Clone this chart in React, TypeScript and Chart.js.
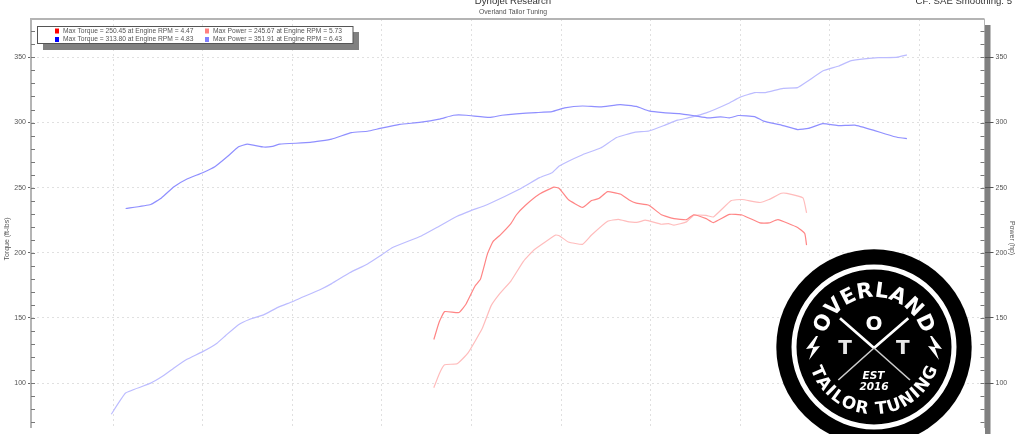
import React, { useEffect, useRef } from "react";
import { Chart, registerables } from "chart.js";

Chart.register(...registerables);

const FONT = '"Liberation Sans", Arial, sans-serif';
const LOGO_FONT = '"DejaVu Sans", "Liberation Sans", sans-serif';

const redTorqueRpm = [3.79,3.82,3.85,3.93,3.97,4.02,4.05,4.09,4.12,4.16,4.22,4.25,4.30,4.38,4.46,4.49,4.54,4.62,4.67,4.71,4.76,4.83,4.88,4.92,4.99,5.06,5.13,5.20,5.24,5.31,5.35,5.44,5.51,5.61,5.66,5.71,5.82,5.86,5.87];
const redTorque = [133.4,146.8,154.8,154.1,160.7,174.5,179.6,199.5,208.6,213.6,222.4,229,236.3,245.1,250.45,249.4,240.9,234.8,240.1,241.6,246.9,245.1,240.5,238.1,236.5,229.2,226.2,225.4,229.2,226.2,223.2,229.5,229,222.9,222.9,225.4,219.4,214.8,205.8];

const bluTorqueRpm = [2.07,2.21,2.27,2.34,2.41,2.50,2.57,2.64,2.70,2.75,2.84,2.89,2.93,3.10,3.22,3.33,3.42,3.49,3.60,3.71,3.82,3.90,3.97,4.10,4.17,4.25,4.36,4.45,4.52,4.62,4.72,4.83,4.92,4.99,5.07,5.16,5.25,5.32,5.39,5.44,5.49,5.58,5.63,5.73,5.82,5.88,5.96,6.05,6.14,6.25,6.31,6.38,6.43];
const bluTorque = [234,237.1,242.1,250.7,256.4,261.5,266.3,274.1,281.4,283.4,281.2,281.7,283.4,284.7,287.2,292.3,293.3,295.5,298.6,300.1,302.6,305.6,305.6,303.9,305.6,306.7,307.6,308.4,311.2,312.7,312,313.8,312.4,308.9,307.6,306.9,305.1,303.6,304.4,303.6,305.4,304.6,301.1,298,294.6,295.5,299.1,297.6,298,293.8,291.2,288.5,287.7];

const redPowerRpm = [3.79,3.82,3.85,3.92,3.98,4.06,4.11,4.16,4.22,4.29,4.35,4.47,4.49,4.54,4.62,4.67,4.76,4.82,4.88,4.93,4.97,5.06,5.10,5.13,5.20,5.24,5.31,5.35,5.45,5.51,5.61,5.66,5.73,5.76,5.85,5.87];
const redPower = [96.4,107,114,114.8,122.9,141.8,159.4,169,178.3,193.4,202.3,213.6,213.1,208.3,206.5,213.6,224.2,225.7,223.7,223.5,225,221.9,222.4,221.2,223.7,228.7,228.7,227.5,240.1,240.9,238.6,240.9,245.67,245.6,242.1,230.7];

const bluPowerRpm = [1.99,2.07,2.21,2.28,2.34,2.41,2.50,2.58,2.63,2.70,2.76,2.84,2.92,3.00,3.04,3.16,3.22,3.32,3.42,3.50,3.56,3.72,3.82,3.92,3.99,4.09,4.27,4.38,4.45,4.49,4.62,4.72,4.81,4.91,4.99,5.08,5.15,5.22,5.31,5.43,5.50,5.58,5.64,5.74,5.82,5.88,5.96,6.05,6.12,6.27,6.37,6.43];
const bluPower = [76,92.3,99.9,105.5,111.5,118,124.1,130.6,136.7,144.8,148.8,152.3,158.1,162.4,164.9,172,176.3,184.6,191.4,198.5,204,212.9,220.4,228,232,237.1,248.9,257.7,261.5,266.6,275.3,280.4,288.5,292.5,293.5,298,301.8,303.9,307.4,314.4,319.5,323,323,326.3,326.8,332.1,339.6,343.4,347.5,349.8,350,351.91];

const titleText = "Dynojet Research";
const subtitleText = "Overland Tailor Tuning";
const cornerText = "CF: SAE Smoothing: 5";
const leftAxisText = "Torque (ft-lbs)";
const rightAxisText = "Power (hp)";
const logoTop = "OVERLAND";
const logoBottom = "TAILOR TUNING";
const logoCentre = ["O", "T", "T"];
const logoYear = ["EST", "2016"];

const legendRows = [
  { label: "Max Torque = 250.45 at Engine RPM = 4.47", swatch: "#ff0000" },
  { label: "Max Torque = 313.80 at Engine RPM = 4.83", swatch: "#0000ff" },
  { label: "Max Power = 245.67 at Engine RPM = 5.73", swatch: "#ff8080" },
  { label: "Max Power = 351.91 at Engine RPM = 6.43", swatch: "#8080ff" },
];

const xy = (xs: number[], ys: number[]) => xs.map((x, i) => ({ x, y: ys[i] }));

function arcText(ctx: CanvasRenderingContext2D, text: string, cx: number, cy: number, r: number, span: number, top: boolean) {
  const widths = [...text].map((c) => ctx.measureText(c).width);
  const total = widths.reduce((a, b) => a + b, 0);
  const gap = (span * r - total) / (text.length - 1);
  let s = -(span * r) / 2;
  [...text].forEach((c, i) => {
    const mid = (s + widths[i] / 2) / r;
    ctx.save();
    if (top) {
      ctx.translate(cx + r * Math.sin(mid), cy - r * Math.cos(mid));
      ctx.rotate(mid);
    } else {
      ctx.translate(cx + r * Math.sin(mid), cy + r * Math.cos(mid));
      ctx.rotate(-mid);
    }
    ctx.textAlign = "center";
    ctx.textBaseline = "alphabetic";
    ctx.fillText(c, 0, 0);
    ctx.restore();
    s += widths[i] + gap;
  });
}

function bolt(ctx: CanvasRenderingContext2D, cx: number, cy: number, flip: number) {
  const p = [[3, -12], [-7, 1], [0, 0], [-4, 12], [7, -2], [0, -1], [5, -12]];
  ctx.beginPath();
  p.forEach(([x, y], i) => {
    const px = cx + x * flip;
    const py = cy + y;
    if (i === 0) ctx.moveTo(px, py);
    else ctx.lineTo(px, py);
  });
  ctx.closePath();
  ctx.fill();
}

const decorations = {
  id: "decorations",
  beforeDraw(chart: any) {
    const { ctx, chartArea: a } = chart;
    ctx.save();
    ctx.fillStyle = "#ffffff";
    ctx.fillRect(0, 0, chart.width, chart.height);
    ctx.fillStyle = "#808080";
    ctx.fillRect(a.right + 0.5, 25, 5.5, chart.height - 25);
    ctx.restore();
  },
  afterDraw(chart: any) {
    const { ctx, chartArea: a, scales } = chart;
    ctx.save();
    // top frame
    ctx.fillStyle = "#b4b4b4";
    ctx.fillRect(a.left - 1, a.top - 1, a.right - a.left + 1, 2);

    // inward tick marks
    ctx.strokeStyle = "#777777";
    ctx.lineWidth = 1;
    scales.y.ticks.forEach((t: any) => {
      const py = Math.round(scales.y.getPixelForValue(t.value)) + 0.5;
      ctx.beginPath();
      ctx.moveTo(a.left, py);
      ctx.lineTo(a.left + 4, py);
      ctx.moveTo(a.right - 4, py);
      ctx.lineTo(a.right, py);
      ctx.stroke();
    });

    // title texts
    ctx.fillStyle = "#333333";
    ctx.textBaseline = "alphabetic";
    ctx.font = `9.6px ${FONT}`;
    ctx.textAlign = "center";
    ctx.fillText(titleText, 513, 4);
    ctx.textAlign = "right";
    ctx.fillText(cornerText, 1012, 4);
    ctx.fillStyle = "#555555";
    ctx.font = `6.8px ${FONT}`;
    ctx.textAlign = "center";
    ctx.fillText(subtitleText, 513, 14);

    // rotated axis names
    ctx.font = `7px ${FONT}`;
    ctx.save();
    ctx.translate(7, 239);
    ctx.rotate(-Math.PI / 2);
    ctx.textBaseline = "middle";
    ctx.fillText(leftAxisText, 0, 0);
    ctx.restore();
    ctx.save();
    ctx.translate(1012, 238);
    ctx.rotate(Math.PI / 2);
    ctx.textBaseline = "middle";
    ctx.fillText(rightAxisText, 0, 0);
    ctx.restore();

    // legend
    ctx.fillStyle = "#808080";
    ctx.fillRect(43, 32, 316, 18);
    ctx.fillStyle = "#ffffff";
    ctx.fillRect(37.5, 26.5, 315.5, 17);
    ctx.strokeStyle = "#555555";
    ctx.strokeRect(37.5, 26.5, 315.5, 17);
    ctx.font = `6.7px ${FONT}`;
    ctx.textAlign = "left";
    ctx.textBaseline = "middle";
    legendRows.forEach((row, i) => {
      const col = i < 2 ? 0 : 1;
      const line = i % 2;
      const sx = col === 0 ? 55 : 205;
      const sy = line === 0 ? 28.5 : 37;
      ctx.fillStyle = row.swatch;
      ctx.fillRect(sx, sy, 4, 5);
      ctx.fillStyle = "#555555";
      ctx.fillText(row.label, sx + 8, sy + 2.5);
    });

    // badge
    const cx = 874;
    const cy = 347;
    ctx.fillStyle = "#000000";
    ctx.beginPath();
    ctx.arc(cx, cy, 97.7, 0, Math.PI * 2);
    ctx.fill();
    ctx.strokeStyle = "#ffffff";
    ctx.lineWidth = 5;
    ctx.beginPath();
    ctx.arc(cx, cy, 80, 0, Math.PI * 2);
    ctx.stroke();
    ctx.fillStyle = "#ffffff";
    ctx.font = `bold 21px ${LOGO_FONT}`;
    arcText(ctx, logoTop, cx, cy, 50, (150 * Math.PI) / 180, true);
    ctx.font = `bold 17px ${LOGO_FONT}`;
    arcText(ctx, logoBottom, cx, cy, 67, (142 * Math.PI) / 180, false);
    ctx.font = `bold 20px ${LOGO_FONT}`;
    ctx.textAlign = "center";
    ctx.textBaseline = "middle";
    ctx.fillText(logoCentre[0], 874, 325);
    ctx.fillStyle = "#e8e8e8";
    ctx.fillText(logoCentre[1], 845, 348.5);
    ctx.fillText(logoCentre[2], 902.7, 348.5);
    ctx.strokeStyle = "#ffffff";
    ctx.lineWidth = 2.8;
    ctx.beginPath();
    ctx.moveTo(840, 318.3);
    ctx.lineTo(874, 348);
    ctx.moveTo(908.3, 318.3);
    ctx.lineTo(874, 348);
    ctx.stroke();
    ctx.lineWidth = 1.6;
    ctx.strokeStyle = "#cccccc";
    ctx.beginPath();
    ctx.moveTo(874, 348);
    ctx.lineTo(910, 380);
    ctx.moveTo(874, 348);
    ctx.lineTo(838.3, 380);
    ctx.stroke();
    ctx.fillStyle = "#ffffff";
    ctx.font = `italic bold 10.5px ${LOGO_FONT}`;
    ctx.fillText(logoYear[0], 873.5, 376);
    ctx.fillText(logoYear[1], 874, 387);
    bolt(ctx, 813, 348, 1);
    bolt(ctx, 935, 348, -1);
    ctx.restore();
  },
};

export default function App() {
  const ref = useRef<HTMLCanvasElement>(null);
  useEffect(() => {
    if (!ref.current) return;
    const isMajor = (v: number) => Math.abs(v % 50) < 1e-6;
    const yBase = (tickLength: number, tickColor: string, withGrid: boolean) => ({
      min: 65.6,
      max: 379.5,
      afterFit: (s: any) => {
        s.width = withGrid ? 31 : 39.5;
      },
      ticks: {
        stepSize: 10,
        includeBounds: false,
        autoSkip: false,
        maxRotation: 0,
        padding: 2,
        color: "#555555",
        font: { size: 7, family: FONT },
        callback: (v: any) => (isMajor(Number(v)) ? String(v) : ""),
      },
      border: { display: true, color: "#b4b4b4", width: withGrid ? 2 : 1, dash: [2, 3] },
      grid: {
        display: true,
        drawOnChartArea: withGrid,
        drawTicks: true,
        tickLength,
        lineWidth: 1,
        color: (c: any) => (isMajor(c.tick?.value ?? 1) ? "#e0e0e0" : "rgba(0,0,0,0)"),
        tickColor: (c: any) => (isMajor(c.tick?.value ?? 1) ? tickColor : "rgba(0,0,0,0)"),
      },
    });
    const chart = new Chart(ref.current, {
      type: "line",
      data: {
        datasets: [
          { label: legendRows[0].label, data: xy(redTorqueRpm, redTorque), yAxisID: "y", borderColor: "#ff8585" },
          { label: legendRows[1].label, data: xy(bluTorqueRpm, bluTorque), yAxisID: "y", borderColor: "#8f8fff" },
          { label: legendRows[2].label, data: xy(redPowerRpm, redPower), yAxisID: "y1", borderColor: "#ffbcbc" },
          { label: legendRows[3].label, data: xy(bluPowerRpm, bluPower), yAxisID: "y1", borderColor: "#bcbcff" },
        ],
      },
      options: {
        responsive: false,
        animation: false,
        layout: { autoPadding: false, padding: { top: 19, left: 0, right: 0, bottom: 0 } },
        elements: { point: { radius: 0 }, line: { borderWidth: 1.2, tension: 0.12 } },
        plugins: { legend: { display: false }, title: { display: false }, tooltip: { enabled: false } },
        scales: {
          x: {
            type: "linear",
            min: 1.542,
            max: 6.863,
            afterFit: (s: any) => {
              s.height = 0;
            },
            ticks: { display: false, stepSize: 0.5, includeBounds: false, autoSkip: false },
            border: { display: false, dash: [2, 3] },
            grid: { color: "#e0e0e0", lineWidth: 1, drawTicks: false },
          },
          y: { ...yBase(3, "#666666", true), position: "left" },
          y1: { ...yBase(9, "#555555", false), position: "right" },
        },
      } as any,
      plugins: [decorations],
    });
    return () => chart.destroy();
  }, []);
  return (
    <div style={{ position: "absolute", left: 0, top: 0, width: 1024, height: 434, overflow: "hidden", background: "#fff" }}>
      <canvas ref={ref} width={1024} height={434} style={{ display: "block" }} />
    </div>
  );
}
